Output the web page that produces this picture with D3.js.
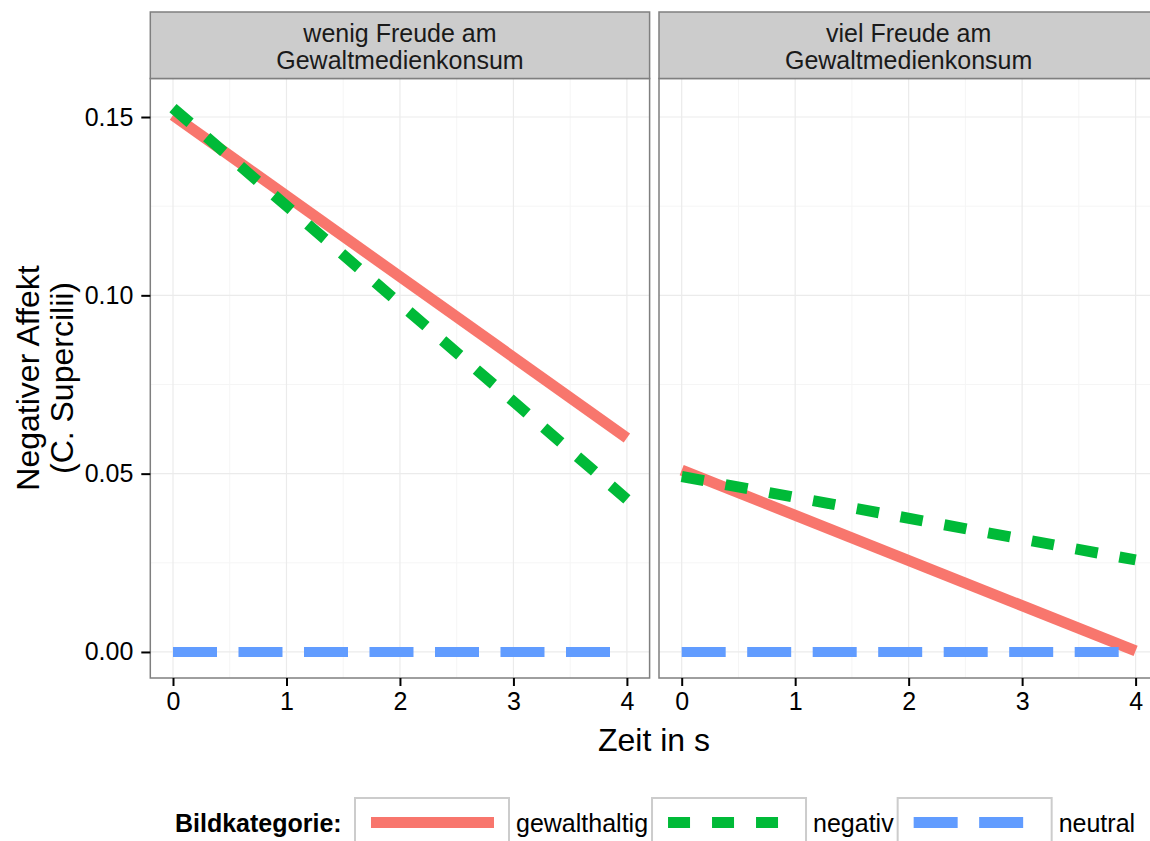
<!DOCTYPE html>
<html>
<head>
<meta charset="utf-8">
<script src="https://cdn.jsdelivr.net/npm/d3@7"></script>
<style>
body { margin: 0; background: #fff; }
text { font-family: "Liberation Sans", Arial, sans-serif; }
</style>
</head>
<body>
<svg width="1150" height="841"></svg>
<script>
// data
var panels = ["wenig Freude am\nGewaltmedienkonsum", "viel Freude am\nGewaltmedienkonsum"];
var categories = ["gewalthaltig", "negativ", "neutral"];
var zeit = [0, 4];
var wenigGewalthaltig = [0.1505, 0.0600];
var wenigNegativ = [0.1525, 0.0428];
var wenigNeutral = [0, 0];
var vielGewalthaltig = [0.0510, 0.0003];
var vielNegativ = [0.0492, 0.0258];
var vielNeutral = [0, 0];
var xTicks = [0, 1, 2, 3, 4];
var yTicks = [0, 0.05, 0.10, 0.15];

var colors = {gewalthaltig: "#F8766D", negativ: "#00BA38", neutral: "#619CFF"};
var dashes = {gewalthaltig: null, negativ: "22.5,22", neutral: "44,21.5"};
var widths = {gewalthaltig: 11, negativ: 11, neutral: 10};

var series = [
  [wenigGewalthaltig, wenigNegativ, wenigNeutral],
  [vielGewalthaltig, vielNegativ, vielNeutral]
];

var svg = d3.select("svg");
svg.append("rect").attr("width", 1150).attr("height", 841).attr("fill", "#fff");

var panelLeft = [150.3, 659],
    panelW = 499.3,
    stripTop = 12, panelTop = 78.5, panelBottom = 678;

var y = d3.scaleLinear().domain([-0.0073, 0.1608]).range([panelBottom, panelTop]);

panels.forEach(function(title, p) {
  var x = d3.scaleLinear().domain([-0.2, 4.2]).range([panelLeft[p], panelLeft[p] + panelW]);
  var g = svg.append("g");

  // minor grid
  d3.range(0.5, 4, 1).forEach(function(v) {
    g.append("line").attr("x1", x(v)).attr("x2", x(v)).attr("y1", panelTop).attr("y2", panelBottom)
      .attr("stroke", "#f5f5f5").attr("stroke-width", 1);
  });
  [0.025, 0.075, 0.125].forEach(function(v) {
    g.append("line").attr("y1", y(v)).attr("y2", y(v)).attr("x1", x.range()[0]).attr("x2", x.range()[1])
      .attr("stroke", "#f5f5f5").attr("stroke-width", 1);
  });
  // major grid
  xTicks.forEach(function(v) {
    g.append("line").attr("x1", x(v)).attr("x2", x(v)).attr("y1", panelTop).attr("y2", panelBottom)
      .attr("stroke", "#ebebeb").attr("stroke-width", 1.2);
  });
  yTicks.forEach(function(v) {
    g.append("line").attr("y1", y(v)).attr("y2", y(v)).attr("x1", x.range()[0]).attr("x2", x.range()[1])
      .attr("stroke", "#ebebeb").attr("stroke-width", 1.2);
  });

  // lines
  var line = d3.line()
    .x(function(d, i) { return x(zeit[i]); })
    .y(function(d) { return y(d); });

  categories.forEach(function(c, i) {
    g.append("path")
      .attr("d", line(series[p][i]))
      .attr("fill", "none")
      .attr("stroke", colors[c])
      .attr("stroke-width", widths[c])
      .attr("stroke-dasharray", dashes[c])
      .attr("stroke-linecap", "butt");
  });

  // panel border
  g.append("rect").attr("x", x.range()[0]).attr("y", panelTop).attr("width", panelW).attr("height", panelBottom - panelTop)
    .attr("fill", "none").attr("stroke", "#7f7f7f").attr("stroke-width", 1.5);

  // strip
  g.append("rect").attr("x", x.range()[0]).attr("y", stripTop).attr("width", panelW).attr("height", panelTop - stripTop)
    .attr("fill", "#cccccc").attr("stroke", "#7f7f7f").attr("stroke-width", 1.5);
  title.split("\n").forEach(function(t, k) {
    g.append("text").attr("x", x.range()[0] + panelW / 2).attr("y", 42 + k * 27)
      .attr("text-anchor", "middle").attr("font-size", 25).attr("fill", "#1a1a1a").text(t);
  });

  // x axis
  var xa = g.append("g").attr("transform", "translate(0," + panelBottom + ")")
    .call(d3.axisBottom(x).tickValues(xTicks).tickSize(8).tickPadding(6).tickFormat(d3.format("d")));
  xa.select(".domain").remove();
  xa.selectAll("line").attr("stroke", "#000").attr("stroke-width", 2);
  xa.selectAll("text").attr("font-size", 25).attr("fill", "#000").attr("font-family", "Liberation Sans, Arial, sans-serif");

  if (p === 0) {
    var ya = g.append("g").attr("transform", "translate(" + x.range()[0] + ",0)")
      .call(d3.axisLeft(y).tickValues(yTicks).tickSize(9).tickPadding(8).tickFormat(d3.format(".2f")));
    ya.select(".domain").remove();
    ya.selectAll("line").attr("stroke", "#000").attr("stroke-width", 2);
    ya.selectAll("text").attr("font-size", 25).attr("fill", "#000").attr("font-family", "Liberation Sans, Arial, sans-serif");
  }
});

// axis titles
svg.append("text").attr("x", 654).attr("y", 751).attr("text-anchor", "middle")
  .attr("font-size", 32).attr("fill", "#000").text("Zeit in s");
["Negativer Affekt", "(C. Supercilii)"].forEach(function(t, k) {
  svg.append("text").attr("transform", "translate(" + (39 + k * 34) + ",378) rotate(-90)")
    .attr("text-anchor", "middle").attr("font-size", 32).attr("fill", "#000").text(t);
});

// legend
var leg = svg.append("g");
leg.append("text").attr("x", 175).attr("y", 832).attr("font-size", 25).attr("font-weight", "bold")
  .attr("fill", "#000").text("Bildkategorie:");
var lx = 355;
categories.forEach(function(c) {
  leg.append("rect").attr("x", lx).attr("y", 798).attr("width", 154).attr("height", 60)
    .attr("fill", "#fff").attr("stroke", "#cccccc").attr("stroke-width", 2);
  leg.append("line").attr("x1", lx + 16).attr("x2", lx + 139).attr("y1", 822.5).attr("y2", 822.5)
    .attr("stroke", colors[c]).attr("stroke-width", 11)
    .attr("stroke-dasharray", c === "negativ" ? "22,22" : dashes[c]);
  var t = leg.append("text").attr("x", lx + 161).attr("y", 832).attr("font-size", 25).attr("fill", "#000").text(c);
  lx = lx + 161 + t.node().getComputedTextLength() + 4;
});
</script>
</body>
</html>
